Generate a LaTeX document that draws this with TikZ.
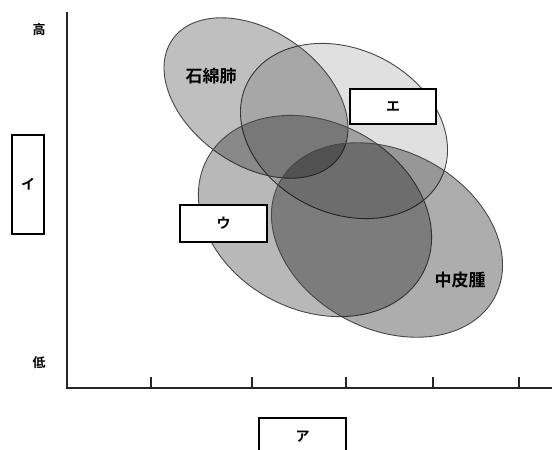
\documentclass[tikz,border=0pt]{standalone}
\usepackage{fontspec}
\newfontfamily\jp{Noto Sans CJK JP}[BoldFont={Noto Sans CJK JP Bold}]
\begin{document}
\begin{tikzpicture}[x=1pt,y=-1pt,
  region/.style={draw=black!72, line width=0.9pt, fill=black},
  lbl/.style={inner sep=0pt, font=\jp\bfseries\fontsize{17}{17}\selectfont},
  axlbl/.style={inner sep=0pt, font=\jp\bfseries\fontsize{13}{13}\selectfont},
  box/.style={draw=black, line width=1.3pt, fill=white, inner sep=0pt, font=\jp\bfseries\fontsize{14}{14}\selectfont},
  axis/.style={line width=1.8pt, draw=black!85}]
\useasboundingbox (0,0) rectangle (552,450);
\clip (0,0) rectangle (552,450);
\fill[white] (0,0) rectangle (552,450);
% regions
\filldraw[region, fill opacity=0.12, rotate around={-26:(344,131)}] (344,131) ellipse[x radius=108, y radius=82];
\filldraw[region, fill opacity=0.25, rotate around={-35:(256,98)}] (256,98) ellipse[x radius=102, y radius=67];
\filldraw[region, fill opacity=0.28, rotate around={-27.5:(315,216)}] (315,216) ellipse[x radius=122, y radius=94];
\filldraw[region, fill opacity=0.32, rotate around={-28:(387,240)}] (387,240) ellipse[x radius=122, y radius=89];
% axes
\coordinate (top) at (67,12);
\coordinate (orig) at (67,388);
\coordinate (right) at (552,388);
\draw[axis] (top) -- (orig) -- (right);
\foreach \x in {151,252,346,433,519} \draw[axis] (\x,388) -- (\x,377);
% labels
\node[lbl] (asb) at (211,76) {石綿肺};
\node[lbl] (meso) at (460,280) {中皮腫};
\node[axlbl] (hi) at (39,30) {高};
\node[axlbl] (lo) at (39,363) {低};
% boxes
\node[box, minimum width=32pt, minimum height=99pt] (bi) at (28,184.5) {イ};
\node[box, minimum width=87pt, minimum height=37pt] (bu) at (223.5,223.5) {ウ};
\node[box, minimum width=86pt, minimum height=35pt] (be) at (393,106.5) {エ};
\node[box, minimum width=87pt, minimum height=38pt] (ba) at (302.5,437) {ア};
\end{tikzpicture}
\end{document}
